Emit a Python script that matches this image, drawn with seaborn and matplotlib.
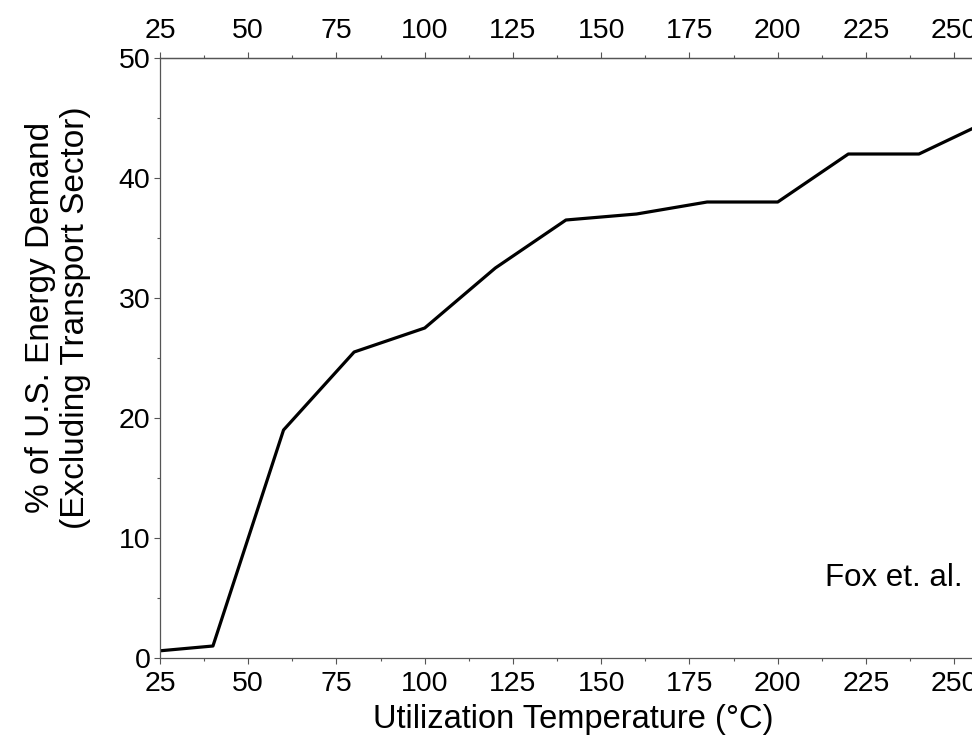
import matplotlib
matplotlib.use("Agg")
import matplotlib.pyplot as plt
import matplotlib.ticker as ticker
import pandas as pd
import seaborn as sns

# values
temperature = [25, 40, 60, 80, 100, 120, 140, 160, 180, 200, 220, 240, 260]
demand_pct = [0.6, 1.0, 19.0, 25.5, 27.5, 32.5, 36.5, 37.0, 38.0, 38.0, 42.0, 42.0, 44.8]
x_ticks = [25, 50, 75, 100, 125, 150, 175, 200, 225, 250, 275]
y_ticks = [0, 10, 20, 30, 40, 50]

df = pd.DataFrame({"temp": temperature, "pct": demand_pct})

sns.set_style("ticks")
plt.rcParams["font.family"] = ["Liberation Sans", "DejaVu Sans"]
plt.rcParams["text.color"] = "black"
plt.rcParams["xtick.labelcolor"] = "black"
plt.rcParams["ytick.labelcolor"] = "black"
plt.rcParams["axes.labelcolor"] = "black"

axis_grey = "#555555"

fig = plt.figure(figsize=(9.72, 7.38), dpi=100)
# axes runs past the right edge of the figure, like the cropped original
ax = fig.add_axes([0.1646, 0.1084, 0.9987, 0.813])

sns.lineplot(data=df, x="temp", y="pct", color="black", linewidth=2.3, ax=ax)

ax.set_xlim(25, 300)
ax.set_ylim(0, 50)
ax.set_xticks(x_ticks)
ax.set_yticks(y_ticks)
ax.xaxis.set_minor_locator(ticker.MultipleLocator(12.5))
ax.yaxis.set_minor_locator(ticker.MultipleLocator(5))

ax.tick_params(axis="x", which="major", labelsize=20.5, length=4, width=0.8,
               color=axis_grey, direction="out", pad=5, top=False)
ax.tick_params(axis="y", which="major", labelsize=20.5, length=4, width=0.8,
               color=axis_grey, direction="out", pad=3)
ax.tick_params(axis="both", which="minor", length=2.5, width=0.8,
               color=axis_grey, direction="out", top=False)

# top axis repeats the temperature ticks
top = ax.secondary_xaxis("top")
top.set_xticks(x_ticks)
top.xaxis.set_minor_locator(ticker.MultipleLocator(12.5))
top.tick_params(axis="x", which="major", labelsize=20.5, length=4, width=0.8,
                color=axis_grey, direction="out", pad=6)
top.tick_params(axis="x", which="minor", length=2.5, width=0.8,
                color=axis_grey, direction="out")
top.spines["top"].set_color(axis_grey)
top.spines["top"].set_linewidth(0.9)

for side in ["left", "bottom", "top", "right"]:
    ax.spines[side].set_color(axis_grey)
    ax.spines[side].set_linewidth(0.9)

ax.set_xlabel("Utilization Temperature (°C)", fontsize=23.5)
ax.xaxis.set_label_coords(0.426, -0.076)
ax.set_ylabel("% of U.S. Energy Demand\n(Excluding Transport Sector)", fontsize=24,
              linespacing=1.15)
ax.yaxis.set_label_coords(-0.071, 0.568)

ax.text(232.9, 6.7, "Fox et. al.", fontsize=22.5, ha="center", va="center")

fig.savefig("out.png", dpi=100)
